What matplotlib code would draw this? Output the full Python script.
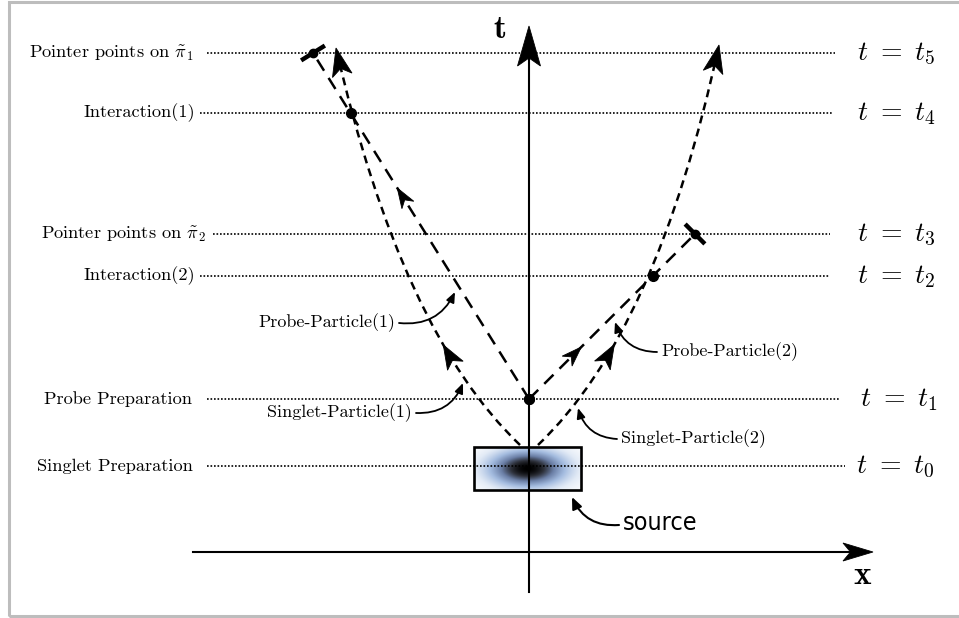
import numpy as np
import matplotlib
matplotlib.use('Agg')
import matplotlib.pyplot as plt
from matplotlib.path import Path
from matplotlib.patches import PathPatch, Polygon, Rectangle
from matplotlib.colors import LinearSegmentedColormap

plt.rcParams['mathtext.fontset'] = 'cm'

# ---------------- data ----------------
# time levels (height above the singlet preparation line)
level_t = [0, 67, 190, 232, 353, 413]
left_labels = ['Singlet Preparation', 'Probe Preparation', 'Interaction(2)',
               r'Pointer points on $\tilde{\pi}_2$', 'Interaction(1)',
               r'Pointer points on $\tilde{\pi}_1$']
right_labels = [r'$t\ =\ t_0$', r'$t\ =\ t_1$', r'$t\ =\ t_2$',
                r'$t\ =\ t_3$', r'$t\ =\ t_4$', r'$t\ =\ t_5$']
# layout of each level: label right edge, dotted start, dotted end, right label left
label_right = [-336, -337, -334, -323, -334, -336]
dot_start = [-322, -322, -329, -316, -329, -322]
dot_end = [316, 311, 301, 301, 304, 306]
right_left = [327, 331, 328, 328, 328, 328]

# singlet particle world lines: quadratic Bezier control points (x, t)
singlet1 = [(-9, 21), (-128, 134), (-193, 418)]
singlet2 = [(9, 21), (128, 134), (190, 421)]
# probe particle: preparation point, interaction point, pointer point
probe1 = [(0, 67), (-178, 353), (-216, 413)]
probe2 = [(0, 67), (124, 190), (166, 232)]
# position (height) of the arrowhead on each probe line
probe_arrow_t = [278, 119]

annot_texts = ['Probe-Particle(1)', 'Singlet-Particle(1)',
               'Probe-Particle(2)', 'Singlet-Particle(2)']
annot_text_xy = [(-134, 143), (-117, 53), (132, 114), (92, 27)]
annot_ha = ['right', 'right', 'left', 'left']
annot_tip = [(-74, 174), (-66, 83), (86, 144), (49, 58)]
annot_rad = [0.35, 0.35, -0.35, -0.35]

source_box = (-55, -24, 107, 43)   # x, t, width, height

# ---------------- figure ----------------
fig = plt.figure(figsize=(9.59, 6.18), dpi=100)
ax = fig.add_axes([0, 0, 1, 1])
ax.axis('off')

# outer frame
fig.patches.append(Rectangle((9 / 959, 2 / 618), 1.0, 1 - 4 / 618, transform=fig.transFigure,
                             fill=False, ec='#bdbdbd', lw=2.2, zorder=0))

CM = ['cmr10', 'DejaVu Serif']


def stealth(tip, direction, L, W, notch=0.25, z=7):
    d = np.asarray(direction, float)
    d = d / np.hypot(*d)
    n = np.array([-d[1], d[0]])
    tip = np.asarray(tip, float)
    base = tip - L * d
    pts = [tip, base + W / 2 * n, tip - (1 - notch) * L * d, base - W / 2 * n]
    ax.add_patch(Polygon(pts, closed=True, fc='k', ec='k', lw=0.6, zorder=z))


# levels
for t, lab, lr, ds, de in zip(level_t, left_labels, label_right, dot_start, dot_end):
    ax.plot([ds, de], [t, t], color='k', lw=1.2, ls=(0, (1, 1.1)), zorder=3)
    ax.text(lr, t, lab, ha='right', va='center', fontsize=13.2, family=CM)
for t, rl, rx in zip(level_t, right_labels, right_left):
    ax.text(rx, t, rl, ha='left', va='center', fontsize=20)

# source box with gaussian cloud
bx, bt, bw, bh = source_box
xx = np.linspace(-1, 1, 220)
yy = np.linspace(-1, 1, 100)
X, Y = np.meshgrid(xx, yy)
cloud = np.exp(-((X / 0.75) ** 2 + (Y / 0.9) ** 2))
cmap = LinearSegmentedColormap.from_list(
    'src', [(0, 'white'), (0.18, '#e3ebf6'), (0.42, '#a3bbdf'), (0.65, '#6b7fa6'),
            (0.85, '#2c2f38'), (1.0, 'black')])
ax.imshow(cloud, extent=(bx, bx + bw, bt, bt + bh), cmap=cmap, vmin=0, vmax=1,
          interpolation='bilinear', aspect='auto', zorder=2)
ax.add_patch(Rectangle((bx, bt), bw, bh, fill=False, ec='k', lw=1.9, zorder=4))

# axes arrows
ax.plot([0, 0], [-126, 420], color='k', lw=1.5, zorder=4)
stealth((0, 440), (0, 1), 40, 23, 0.2)
ax.plot([-336, 330], [-86, -86], color='k', lw=1.5, zorder=4)
stealth((344, -86), (1, 0), 30, 18, 0.25)
ax.text(-29, 436, 't', fontsize=24, family=['cmb10', 'DejaVu Serif'], ha='center', va='center')
ax.text(333, -109, 'x', fontsize=24, family=['cmb10', 'DejaVu Serif'], ha='center', va='center')


# singlet curves
def bez(P, s):
    P0, P1, P2 = [np.asarray(p, float) for p in P]
    pt = (1 - s) ** 2 * P0 + 2 * s * (1 - s) * P1 + s ** 2 * P2
    dv = 2 * (1 - s) * (P1 - P0) + 2 * s * (P2 - P1)
    return pt, dv


for P in (singlet1, singlet2):
    path = Path(P, [Path.MOVETO, Path.CURVE3, Path.CURVE3])
    ax.add_patch(PathPatch(path, fill=False, ec='k', lw=1.8, ls=(0, (3.2, 2.2)),
                           capstyle='butt', zorder=5))
    stealth(P[2], np.asarray(P[2], float) - np.asarray(P[1], float), 28, 20, 0.25)
    mid, d_mid = bez(P, 0.35)
    stealth(mid, d_mid, 24, 18, 0.25)

# probe lines
for pr, at in zip((probe1, probe2), probe_arrow_t):
    xs = [p[0] for p in pr]
    ts = [p[1] for p in pr]
    ax.plot([xs[0], xs[2]], [ts[0], ts[2]], color='k', lw=1.8, ls=(0, (5.2, 3.4)), zorder=5)
    ax.plot(xs[:2], ts[:2], 'o', color='k', ms=7, zorder=8)
    d = np.array([xs[2] - xs[0], ts[2] - ts[0]], float)
    d /= np.hypot(*d)
    n = np.array([-d[1], d[0]])
    c = np.array([xs[2], ts[2]], float)
    ax.plot([c[0] - 14 * n[0], c[0] + 14 * n[0]], [c[1] - 14 * n[1], c[1] + 14 * n[1]],
            color='k', lw=3.2, solid_capstyle='butt', zorder=8)
    ax.plot([c[0]], [c[1]], 'o', color='k', ms=6, zorder=8)
    a_tip = np.array([xs[0], ts[0]], float) + d * (at - ts[0]) / d[1]
    stealth(a_tip, d, 20, 14, 0.3)

# annotations
for txt, xy, ha, tip, rad in zip(annot_texts, annot_text_xy, annot_ha, annot_tip, annot_rad):
    ax.text(xy[0], xy[1], txt, ha=ha, va='center', fontsize=13, family=CM, zorder=9)
    start = (xy[0] + (4 if ha == 'right' else -4), xy[1])
    ax.annotate('', xy=tip, xytext=start,
                arrowprops=dict(arrowstyle='-|>,head_length=0.6,head_width=0.25',
                                connectionstyle=f'arc3,rad={rad}', color='k', lw=1.3,
                                shrinkA=0, shrinkB=0), zorder=9)

# source label
ax.text(94, -57, 'source', ha='left', va='center', fontsize=18,
        family=['DejaVu Sans'], fontstretch='condensed')
ax.annotate('', xy=(43, -31), xytext=(90, -59),
            arrowprops=dict(arrowstyle='-|>,head_length=0.7,head_width=0.3',
                            connectionstyle='arc3,rad=-0.35', color='k', lw=1.5,
                            shrinkA=0, shrinkB=0))

ax.set_xlim(-529, 430)
ax.set_ylim(-152, 466)
fig.savefig('out.png', dpi=100)
